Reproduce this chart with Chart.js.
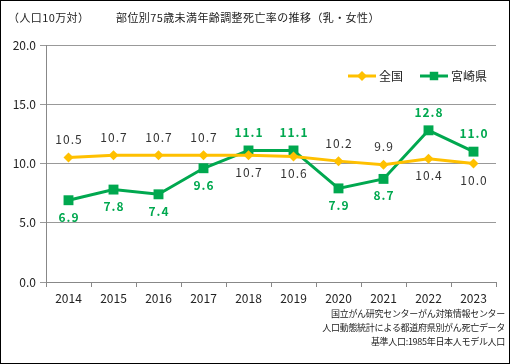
<!DOCTYPE html>
<html>
<head>
<meta charset="utf-8">
<script src="https://cdn.jsdelivr.net/npm/chart.js"></script>
<style>
  html, body { margin: 0; padding: 0; background: #fff; }
  #wrap { position: relative; width: 510px; height: 364px; }
  canvas { display: block; }
</style>
</head>
<body>
<div id="wrap"><canvas id="chart" width="510" height="364"></canvas></div>
<script>
// data
const years = ['2014', '2015', '2016', '2017', '2018', '2019', '2020', '2021', '2022', '2023'];
const national = [10.5, 10.7, 10.7, 10.7, 10.7, 10.6, 10.2, 9.9, 10.4, 10.0];
const miyazaki = [6.9, 7.8, 7.4, 9.6, 11.1, 11.1, 7.9, 8.7, 12.8, 11.0];
// label above (true) or below (false) the point
const nationalAbove = [true, true, true, true, false, false, true, true, false, false];
const miyazakiAbove = [false, false, false, false, true, true, false, false, true, true];

const titleText = '部位別75歳未満年齢調整死亡率の推移（乳・女性）';
const unitText = '（人口10万対）';
const sourceLines = [
  '国立がん研究センターがん対策情報センター',
  '人口動態統計による都道府県別がん死亡データ',
  '基準人口:1985年日本人モデル人口'
];

const ORANGE = '#FFC000';
const GREEN = '#00A84F';
const FONT = '"Noto Sans CJK JP", "Noto Sans", sans-serif';

const decor = {
  id: 'decor',
  afterDatasetsDraw(chart) {
    const ctx = chart.ctx;
    ctx.save();
    // value labels
    const sets = [
      { data: national, above: nationalAbove, color: '#333', bold: false },
      { data: miyazaki, above: miyazakiAbove, color: GREEN, bold: true }
    ];
    ctx.letterSpacing = '1px';
    sets.forEach((s, di) => {
      const meta = chart.getDatasetMeta(di);
      ctx.font = (s.bold ? 'bold ' : '') + '12px ' + FONT;
      ctx.fillStyle = s.color;
      ctx.textAlign = 'center';
      ctx.textBaseline = 'middle';
      meta.data.forEach((pt, i) => {
        const dy = s.above[i] ? -18 : 17;
        ctx.fillText(s.data[i].toFixed(1), pt.x + 0.5, pt.y + dy);
      });
    });
    ctx.letterSpacing = '0px';

    // legend
    const items = [
      { label: '全国', color: ORANGE, style: 'rectRot', r: 5, x: 348 },
      { label: '宮崎県', color: GREEN, style: 'rect', r: 6, x: 420 }
    ];
    const ly = 76;
    items.forEach(it => {
      ctx.strokeStyle = it.color;
      ctx.lineWidth = 3;
      ctx.beginPath();
      ctx.moveTo(it.x, ly);
      ctx.lineTo(it.x + 28, ly);
      ctx.stroke();
      ctx.fillStyle = it.color;
      Chart.helpers.drawPoint(ctx, { pointStyle: it.style, radius: it.r, borderWidth: 0 }, it.x + 14, ly);
      ctx.fillStyle = '#222';
      ctx.font = '12px ' + FONT;
      ctx.textAlign = 'left';
      ctx.textBaseline = 'middle';
      ctx.fillText(it.label, it.x + 31, ly);
    });

    // header
    ctx.fillStyle = '#222';
    ctx.textBaseline = 'middle';
    ctx.textAlign = 'left';
    ctx.font = '11px ' + FONT;
    ctx.letterSpacing = '0.4px';
    ctx.fillText(unitText, 8, 18);
    ctx.fillText(titleText, 116, 18);

    // source
    ctx.font = '9px ' + FONT;
    ctx.letterSpacing = '-0.3px';
    ctx.textAlign = 'right';
    sourceLines.forEach((t, i) => ctx.fillText(t, 505, 314 + i * 14));
    ctx.letterSpacing = '0px';

    // frame
    ctx.strokeStyle = '#000';
    ctx.lineWidth = 1;
    ctx.strokeRect(0.5, 0.5, 509, 363);
    ctx.restore();
  }
};

new Chart(document.getElementById('chart'), {
  type: 'line',
  data: {
    labels: years,
    datasets: [
      {
        label: '全国',
        data: national,
        borderColor: ORANGE,
        backgroundColor: ORANGE,
        borderWidth: 3,
        pointStyle: 'rectRot',
        pointRadius: 5,
        pointBorderWidth: 0,
        tension: 0
      },
      {
        label: '宮崎県',
        data: miyazaki,
        borderColor: GREEN,
        backgroundColor: GREEN,
        borderWidth: 3,
        pointStyle: 'rect',
        pointRadius: 7,
        pointBorderWidth: 0,
        tension: 0
      }
    ]
  },
  options: {
    responsive: false,
    animation: false,
    events: [],
    layout: { padding: { left: 0, right: 14, top: 45, bottom: 0 } },
    plugins: { legend: { display: false }, tooltip: { enabled: false } },
    scales: {
      x: {
        offset: true,
        afterFit: s => { s.height = 82; },
        grid: { offset: true, drawOnChartArea: false, color: '#888', tickLength: 5 },
        border: { color: '#888' },
        ticks: { color: '#222', font: { family: FONT, size: 12 }, padding: 4, maxRotation: 0 }
      },
      y: {
        min: 0,
        max: 20,
        afterFit: s => { s.width = 46; },
        grid: { color: '#999', tickLength: 6 },
        border: { color: '#888' },
        ticks: {
          stepSize: 5,
          color: '#222',
          font: { family: FONT, size: 12 },
          padding: 4,
          callback: v => v.toFixed(1)
        }
      }
    }
  },
  plugins: [decor]
});
</script>
</body>
</html>
